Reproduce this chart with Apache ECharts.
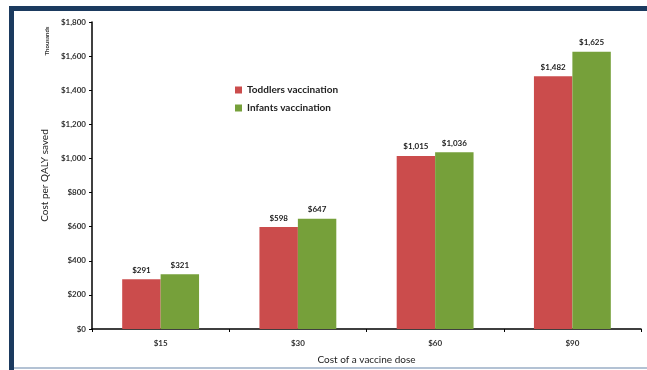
<!DOCTYPE html>
<html>
<head>
<meta charset="utf-8">
<script src="https://cdn.jsdelivr.net/npm/echarts@6/dist/echarts.min.js"></script>
<style>
  html, body { margin: 0; padding: 0; background: #fff; }
  #chart { width: 647px; height: 370px; }
</style>
</head>
<body>
<div id="chart"></div>
<script>
// data
var doses = ["$15", "$30", "$60", "$90"];
var toddlers = [291, 598, 1015, 1482];
var infants = [321, 647, 1036, 1625];
var yTicks = [0, 200, 400, 600, 800, 1000, 1200, 1400, 1600, 1800];

var font = "Lato, 'Open Sans', sans-serif";

function money(v) {
    return "$" + v.toLocaleString("en-US");
}

(function () {
    var myChart = echarts.init(document.getElementById("chart"));
    var option = {
        animation: false,
        backgroundColor: "#fff",
        textStyle: { fontFamily: font },
        grid: {
            left: 92,
            right: 6,
            top: 22,
            bottom: 40
        },
        legend: {
            orient: "vertical",
            left: 230,
            top: 80,
            itemWidth: 7,
            itemHeight: 7,
            itemGap: 8,
            icon: "rect",
            textStyle: { fontSize: 10, fontWeight: "bold", color: "#222", fontFamily: font },
            data: ["Toddlers vaccination", "Infants vaccination"]
        },
        //框线
        graphic: [
            { type: "rect", shape: { x: 9, y: 6, width: 640, height: 5 }, style: { fill: "#1b3a5f" } },
            { type: "rect", shape: { x: 9, y: 6, width: 5, height: 364 }, style: { fill: "#1b3a5f" } },
            { type: "rect", shape: { x: 14, y: 367, width: 633, height: 2 }, style: { fill: "#b3c2d4" } },
            {
                type: "text",
                x: 47, y: 41,
                rotation: Math.PI / 2,
                style: {
                    text: "Thousands",
                    fontSize: 6,
                    fontWeight: "bold",
                    fill: "#333",
                    fontFamily: font,
                    align: "center",
                    verticalAlign: "middle"
                }
            }
        ],
        xAxis: {
            type: "category",
            data: doses,
            name: "Cost of a vaccine dose",
            nameLocation: "middle",
            nameGap: 26,
            nameTextStyle: { fontSize: 10, color: "#222", fontFamily: font },
            axisLine: { lineStyle: { color: "#000", width: 1.5 } },
            axisTick: { show: true, length: 3, lineStyle: { color: "#000" } },
            axisLabel: { fontSize: 8, fontWeight: "bold", color: "#333", margin: 10 }
        },
        yAxis: {
            type: "value",
            min: 0,
            max: 1800,
            interval: 200,
            name: "Cost per QALY saved",
            nameLocation: "middle",
            nameGap: 40,
            nameTextStyle: { fontSize: 10, color: "#222", fontFamily: font },
            axisLine: { show: true, lineStyle: { color: "#000", width: 1.5 } },
            axisTick: { show: true, length: 3, lineStyle: { color: "#000" } },
            splitLine: { show: false },
            axisLabel: {
                fontSize: 8,
                fontWeight: "bold",
                color: "#333",
                margin: 6,
                formatter: function (v) { return money(v); }
            }
        },
        series: [
            {
                name: "Toddlers vaccination",
                type: "bar",
                data: toddlers,
                barGap: "0%",
                barCategoryGap: "44%",
                itemStyle: { color: "#cb4c4c" },
                label: {
                    show: true,
                    position: "top",
                    distance: 5,
                    fontSize: 8,
                    fontWeight: "bold",
                    color: "#222",
                    formatter: function (p) { return money(p.value); }
                }
            },
            {
                name: "Infants vaccination",
                type: "bar",
                data: infants,
                barGap: "0%",
                barCategoryGap: "44%",
                itemStyle: { color: "#76a03a" },
                label: {
                    show: true,
                    position: "top",
                    distance: 5,
                    fontSize: 8,
                    fontWeight: "bold",
                    color: "#222",
                    formatter: function (p) { return money(p.value); }
                }
            }
        ]
    };
    myChart.setOption(option);
})();
</script>
</body>
</html>
